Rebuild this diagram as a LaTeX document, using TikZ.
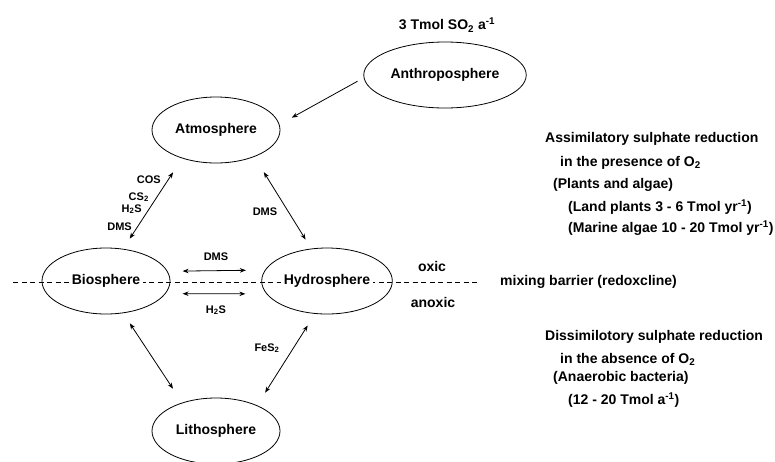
\documentclass[tikz,border=0pt]{standalone}
\usepackage{fontspec}
\setmainfont{Liberation Sans}
\usetikzlibrary{shapes.geometric,arrows.meta}

\begin{document}
\begin{tikzpicture}[x=1pt,y=-1pt,
  sphere/.style={ellipse,draw,line width=0.8pt,minimum width=128pt,minimum height=66pt,inner sep=0pt,font=\fontsize{14}{16}\selectfont\bfseries},
  flux/.style={line width=0.8pt,>={Stealth[length=6pt,width=4.5pt]}},
  lbl/.style={inner sep=0pt,font=\fontsize{11}{13}\selectfont\bfseries},
  txt/.style={inner sep=0pt,anchor=west,font=\fontsize{14}{16}\selectfont\bfseries}]

  \useasboundingbox (0,0) rectangle (775,461);

  % --- Redox barrier ---
  \node[txt] (barrier) at (500,282) {mixing barrier (redoxcline)};
  \coordinate (barL) at (13,282);
  \draw[line width=0.6pt,dash pattern=on 5pt off 3.5pt,shorten >=20pt] (barL) -- (barrier.west);

  % --- Spheres ---
  \node[sphere] (anthro) at (445,75) {\colorbox{white}{Anthroposphere}};
  \node[sphere] (atmo) at (216,130) {\colorbox{white}{Atmosphere}};
  \node[sphere] (bio) at (106,281) {\colorbox{white}{Biosphere}};
  \node[sphere] (hydro) at (327,281) {\colorbox{white}{Hydrosphere}};
  \node[sphere] (litho) at (216,431) {\colorbox{white}{Lithosphere}};

  \node[txt,anchor=center] (emission) at (447,25) {3 Tmol SO\textsubscript{2} a\textsuperscript{-1}};

  % --- Fluxes ---
  \draw[flux,->,shorten <=7pt,shorten >=14pt] (anthro.182) -- (atmo.5);
  \draw[flux,<->,shorten <=16.6pt,shorten >=12.1pt] (atmo.220) -- (bio.62);
  \draw[flux,<->,shorten <=18pt,shorten >=10.6pt] (atmo.-35) -- (hydro.116);
  \draw[flux,<->,shorten <=12.1pt,shorten >=16.6pt] (bio.-62) -- (litho.140);
  \draw[flux,<->,shorten <=13.8pt,shorten >=14.9pt] (hydro.-110) -- (litho.32);
  \draw[flux,<->,shorten <=15pt,shorten >=19pt] (bio.9.3) -- (hydro.170.7);
  \draw[flux,<->,shorten <=17pt,shorten >=21pt] (bio.-12.5) -- (hydro.192.5);

  % --- Flux labels ---
  \node[lbl,anchor=east] (cos) at (161,180) {COS};
  \node[lbl,anchor=east] (cs) at (149,197) {CS\textsubscript{2}};
  \node[lbl,anchor=east] (hs) at (142,209) {H\textsubscript{2}S};
  \node[lbl,anchor=east] (dmsA) at (132,227) {DMS};
  \node[lbl] (dmsB) at (265,212) {DMS};
  \node[lbl] (dmsC) at (216,257) {DMS};
  \node[lbl] (hsB) at (216,310) {H\textsubscript{2}S};
  \node[lbl] (fes) at (267,348) {FeS\textsubscript{2}};

  \node[txt,anchor=center] (oxic) at (432,266) {oxic};
  \node[txt,anchor=center] (anoxic) at (433,302) {anoxic};

  % --- Sulphate reduction ---
  \node[txt] (assim1) at (545,139) {Assimilatory sulphate reduction};
  \node[txt] (assim2) at (560,163) {in the presence of O\textsubscript{2}};
  \node[txt] (assim3) at (553,185) {(Plants and algae)};
  \node[txt] (assim4) at (568,207) {(Land plants 3 - 6 Tmol yr\textsuperscript{-1})};
  \node[txt] (assim5) at (568,228) {(Marine algae 10 - 20 Tmol yr\textsuperscript{-1})};

  \node[txt] (dissim1) at (545,337) {Dissimilotory sulphate reduction};
  \node[txt] (dissim2) at (560,359) {in the absence of O\textsubscript{2}};
  \node[txt] (dissim3) at (553,378) {(Anaerobic bacteria)};
  \node[txt] (dissim4) at (568,400) {(12 - 20 Tmol a\textsuperscript{-1})};

\end{tikzpicture}
\end{document}
